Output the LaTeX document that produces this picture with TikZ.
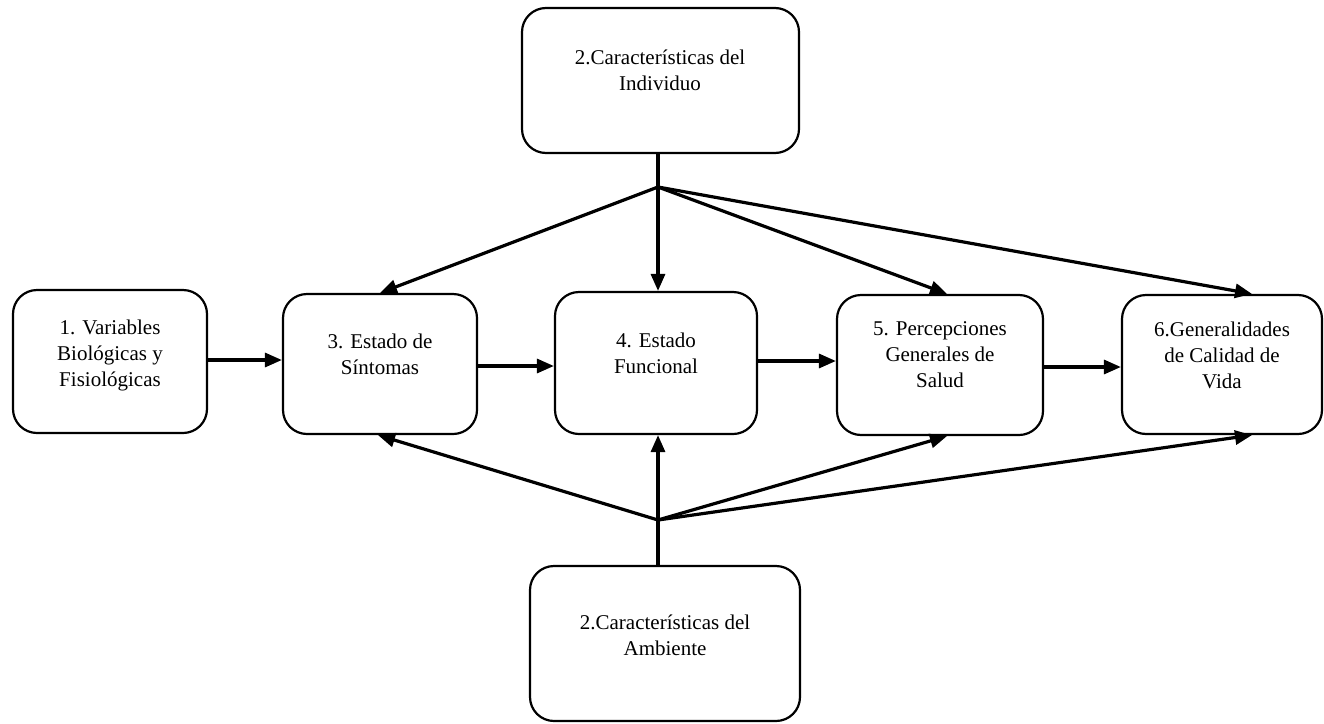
\documentclass[tikz,border=0pt]{standalone}
\usepackage{fontspec}
\setmainfont{Liberation Serif}
\usetikzlibrary{arrows.meta,calc}
\begin{document}
\begin{tikzpicture}[x=1pt,y=-1pt,
  box/.style={draw=black, line width=2.2pt, rounded corners=24pt, inner sep=0pt},
  txt/.style={align=center, inner sep=0pt, font=\fontsize{21}{26}\selectfont},
  arr/.style={line width=3.2pt, -{Triangle[length=17pt,width=14pt]}},
  ln/.style={line width=3.2pt}]
\useasboundingbox (0,0) rectangle (1324,723);
% boxes
\node[box, minimum width=194pt, minimum height=143pt] (b1) at (110,361.5) {};
\node[box, minimum width=194pt, minimum height=140pt] (b3) at (380,364) {};
\node[box, minimum width=202pt, minimum height=142pt] (b4) at (656,363) {};
\node[box, minimum width=206pt, minimum height=140pt] (b5) at (940,365) {};
\node[box, minimum width=200pt, minimum height=139pt] (b6) at (1222,364.5) {};
\node[box, minimum width=277pt, minimum height=145pt] (bt) at (660.5,80.5) {};
\node[box, minimum width=270pt, minimum height=155pt] (bb) at (665,643.5) {};
% texts
\node[txt] (t1) at (110,355) {1. Variables\\Biológicas y\\Fisiológicas};
\node[txt] (t3) at (380,354) {3. Estado de\\Síntomas};
\node[txt] (t4) at (656,353) {4. Estado\\Funcional};
\node[txt] (t5) at (940,355) {5. Percepciones\\Generales de\\Salud};
\node[txt] (t6) at (1222,355) {6.Generalidades\\de Calidad de\\Vida};
\node[txt] (tt) at (660,70) {2.Características del\\Individuo};
\node[txt] (tb) at (665,635.5) {2.Características del\\Ambiente};
% junctions
\coordinate (jt) at (658,187);
\coordinate (jb) at (658,520);
% top fan
\draw[ln] (bt.south -| jt) -- (jt);
\draw[arr] (jt) -- (b3.north);
\draw[arr] (jt) -- (jt |- b4.north);
\draw[arr] (jt) -- ([xshift=7pt]b5.north);
\draw[arr] (jt) -- ([xshift=30pt]b6.north);
% bottom fan
\draw[ln] (bb.north -| jb) -- (jb);
\draw[arr] (jb) -- ([xshift=-2pt]b3.south);
\draw[arr] (jb) -- (jb |- b4.south);
\draw[arr] (jb) -- ([xshift=7pt]b5.south);
\draw[arr] (jb) -- ([xshift=30pt]b6.south);
% horizontal chain
\draw[arr] ([yshift=1.5pt]b1.east) -- ([yshift=1.5pt]b1.east -| b3.west);
\draw[arr] ([yshift=-2pt]b3.east) -- ([yshift=-2pt]b3.east -| b4.west);
\draw[arr] ([yshift=2pt]b4.east) -- ([yshift=2pt]b4.east -| b5.west);
\draw[arr] ([yshift=-2pt]b5.east) -- ([yshift=-2pt]b5.east -| b6.west);
\end{tikzpicture}
\end{document}
